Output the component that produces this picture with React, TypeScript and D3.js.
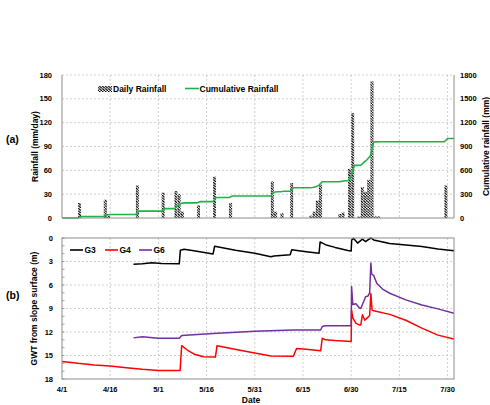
import React from "react";
import * as d3 from "d3";

// daily rainfall (mm/day)
const rainDates = ["4/6", "4/14", "4/15", "4/24", "5/2", "5/6", "5/7", "5/8", "5/13", "5/18", "5/23", "6/5", "6/6", "6/8", "6/11", "6/17", "6/18", "6/19", "6/20", "6/26", "6/27", "6/29", "6/30", "7/2", "7/3", "7/4", "7/5", "7/6", "7/7", "7/8", "7/29"];
const rainValues = [19, 23, 3, 41, 32, 34, 30, 8, 16, 52, 19, 46, 8, 6, 44, 3, 8, 22, 42, 5, 7, 62, 132, 2, 39, 33, 48, 172, 2, 2, 41];

// groundwater table depth (m), panel (b)
const g3Times = ["4/23 06", "4/26 00", "4/29 00", "5/2 00", "5/7 12", "5/7 20", "5/9 00", "5/13 00", "5/18 00", "5/18 12", "5/25 00", "5/31 00", "6/5 00", "6/6 00", "6/11 00", "6/11 12", "6/16 00", "6/20 00", "6/20 08", "6/22 00", "6/25 00", "6/29 00", "6/30 00", "6/30 04", "6/30 18", "7/2 00", "7/3 12", "7/4 12", "7/5 00", "7/6 03", "7/7 00", "7/12 00", "7/17 00", "7/22 00", "7/27 00", "8/1 00"];
const g3Depths = [3.35, 3.3, 3.15, 3.25, 3.3, 1.55, 1.45, 1.7, 2.05, 1.05, 1.55, 1.95, 2.4, 2.3, 2.15, 1.5, 1.75, 1.95, 0.5, 0.85, 1.2, 1.6, 1.65, 0.26, 0.05, 0.65, 0.15, 0.45, 0.3, 0.0, 0.25, 0.7, 0.9, 1.1, 1.4, 1.62];

const g4Times = ["4/1 00", "4/6 00", "4/11 00", "4/16 00", "4/21 00", "4/26 00", "5/1 00", "5/7 18", "5/8 06", "5/10 00", "5/12 00", "5/15 00", "5/18 18", "5/19 06", "5/26 00", "6/5 00", "6/12 00", "6/13 00", "6/16 00", "6/20 12", "6/21 00", "6/22 00", "6/25 00", "6/30 00", "6/30 03", "6/30 12", "7/1 12", "7/2 12", "7/3 00", "7/3 12", "7/4 06", "7/5 00", "7/5 18", "7/6 03", "7/6 12", "7/7 00", "7/12 00", "7/17 00", "7/22 00", "7/27 00", "8/1 00"];
const g4Depths = [15.75, 16.0, 16.2, 16.35, 16.55, 16.75, 16.9, 16.9, 13.75, 14.3, 14.8, 15.15, 15.2, 13.75, 14.3, 15.05, 15.1, 14.1, 14.2, 14.4, 12.8, 13.0, 13.1, 13.2, 9.2, 10.2, 10.9, 11.1, 11.1, 9.8, 10.5, 10.2, 9.9, 7.1, 9.2, 9.3, 9.75, 10.5, 11.5, 12.4, 12.9];

const g6Times = ["4/23 06", "4/26 00", "5/1 00", "5/7 12", "5/8 06", "5/18 00", "5/31 00", "6/12 00", "6/20 12", "6/21 00", "6/22 00", "6/30 00", "6/30 03", "6/30 12", "7/1 12", "7/2 12", "7/3 00", "7/3 12", "7/4 12", "7/5 06", "7/5 18", "7/6 03", "7/6 09", "7/7 00", "7/8 00", "7/10 00", "7/12 00", "7/17 00", "7/22 00", "7/27 00", "8/1 00"];
const g6Depths = [12.75, 12.6, 12.8, 12.8, 12.45, 12.2, 11.9, 11.75, 11.75, 11.3, 11.2, 11.2, 6.2, 8.5, 8.4, 8.9, 9.0, 8.5, 7.5, 7.4, 7.0, 3.2, 4.6, 4.8, 5.8, 6.6, 7.05, 7.9, 8.55, 9.05, 9.6];

const dateTicks = ["4/1", "4/16", "5/1", "5/16", "5/31", "6/15", "6/30", "7/15", "7/30"];
const rainTicks = [0, 30, 60, 90, 120, 150, 180];
const cumTicks = [0, 300, 600, 900, 1200, 1500, 1800];
const gwtTicks = [0, 3, 6, 9, 12, 15, 18];

const parseDay = d3.timeParse("%m/%d");
const parseHour = d3.timeParse("%m/%d %H");

const FONT = "'Liberation Sans', Arial, sans-serif";
const GRID = "#c4c4c4";
const AXIS = "#8c8c8c";

export default function App() {
  const x = d3.scaleTime().domain([parseDay("4/1")!, parseDay("8/1")!]).range([62, 454]);
  const yRain = d3.scaleLinear().domain([0, 180]).range([218, 75]);
  const yCum = d3.scaleLinear().domain([0, 1800]).range([218, 75]);
  const yGwt = d3.scaleLinear().domain([0, 18]).range([238, 379]);

  const rain = rainDates.map((d, i) => ({ date: parseDay(d)!, v: rainValues[i] }));
  const rainByDay = new Map(rain.map((r) => [+r.date, r.v]));
  const days = d3.timeDay.range(parseDay("4/1")!, parseDay("8/1")!);
  const cum = d3.cumsum(days, (d) => rainByDay.get(+d) ?? 0);
  const cumPts: [Date, number][] = [[days[0], 0], ...days.map((d, i) => [d3.timeDay.offset(d, 1), cum[i]] as [Date, number])];

  const cumLine = d3.line<[Date, number]>().x((d) => x(d[0])).y((d) => yCum(d[1]));
  const gLine = d3.line<{ t: Date; v: number }>().x((d) => x(d.t)).y((d) => yGwt(d.v));
  const series = [
    { name: "G3", color: "#000000", times: g3Times, vals: g3Depths },
    { name: "G4", color: "#ff0000", times: g4Times, vals: g4Depths },
    { name: "G6", color: "#7030a0", times: g6Times, vals: g6Depths },
  ];

  const tickDates = dateTicks.map((d) => parseDay(d)!);
  const [x0, x1] = x.range();
  const minor = d3.range(0, 19);

  return (
    <svg width={490} height={405} style={{ position: "absolute", left: 0, top: 0, background: "#fff" }} fontFamily={FONT} fontWeight="bold">
      <defs>
        <pattern id="hatch" patternUnits="userSpaceOnUse" width={3} height={2.6}>
          <rect width={3} height={2.6} fill="#fff" />
          <path d="M-0.5,-0.4 L3.5,3" stroke="#000" strokeWidth={1.15} />
        </pattern>
        <clipPath id="clipB">
          <rect x={x0} y={237} width={x1 - x0} height={143} />
        </clipPath>
      </defs>

      {/* panel (a) */}
      {rainTicks.slice(1).map((t) => (
        <line key={t} x1={x0} x2={x1} y1={yRain(t)} y2={yRain(t)} stroke={GRID} strokeDasharray="2,2" strokeWidth={0.8} />
      ))}
      {tickDates.slice(1).map((d, i) => (
        <line key={i} x1={x(d)} x2={x(d)} y1={75} y2={218} stroke={GRID} strokeDasharray="2,2" strokeWidth={0.8} />
      ))}
      {rain.map((r, i) => (
        <rect key={i} x={x(r.date)} width={x(d3.timeDay.offset(r.date, 1)) - x(r.date) - 0.2} y={yRain(r.v)} height={yRain(0) - yRain(r.v)} fill="url(#hatch)" />
      ))}
      <path d={cumLine(cumPts)!} fill="none" stroke="#22b04b" strokeWidth={1.6} />
      <line x1={x0} x2={x0} y1={75} y2={218} stroke={AXIS} />
      <line x1={x1} x2={x1} y1={75} y2={218} stroke={AXIS} />
      <line x1={x0} x2={x1} y1={218} y2={218} stroke={AXIS} strokeWidth={1.2} />
      {rainTicks.map((t) => (
        <text key={t} x={52} y={yRain(t)} dy="0.35em" textAnchor="end" fontSize={7.5}>{t}</text>
      ))}
      {cumTicks.map((t) => (
        <text key={t} x={460} y={yCum(t)} dy="0.35em" fontSize={7.5}>{t}</text>
      ))}
      <text transform="translate(38,146.5) rotate(-90)" textAnchor="middle" fontSize={8.5}>Rainfall (mm/day)</text>
      <text transform="translate(489,146.5) rotate(-90)" textAnchor="middle" fontSize={8.5}>Cumulative rainfall (mm)</text>
      <text x={6} y={143} fontSize={10.5}>(a)</text>
      <rect x={98} y={86} width={14} height={6} fill="url(#hatch)" />
      <text x={113} y={91.5} fontSize={8.5}>Daily Rainfall</text>
      <line x1={185} x2={199} y1={88.5} y2={88.5} stroke="#22b04b" strokeWidth={1.6} />
      <text x={199.5} y={91.5} fontSize={8.5}>Cumulative Rainfall</text>

      {/* panel (b) */}
      {gwtTicks.slice(1, -1).map((t) => (
        <line key={t} x1={x0} x2={x1} y1={yGwt(t)} y2={yGwt(t)} stroke={GRID} strokeDasharray="2,2" strokeWidth={0.8} />
      ))}
      {tickDates.slice(1).map((d, i) => (
        <line key={i} x1={x(d)} x2={x(d)} y1={238} y2={379} stroke={GRID} strokeDasharray="2,2" strokeWidth={0.8} />
      ))}
      <g clipPath="url(#clipB)">
        {series.map((s) => (
          <path key={s.name} d={gLine(s.times.map((t, i) => ({ t: parseHour(t)!, v: s.vals[i] })))!} fill="none" stroke={s.color} strokeWidth={1.5} strokeLinejoin="round" />
        ))}
      </g>
      <rect x={x0} y={238} width={x1 - x0} height={141} fill="none" stroke={AXIS} strokeWidth={1} />
      {minor.map((m) => (
        <line key={m} x1={x0} x2={x0 + 2.5} y1={yGwt(m)} y2={yGwt(m)} stroke={AXIS} strokeWidth={0.8} />
      ))}
      {gwtTicks.map((t) => (
        <text key={t} x={53} y={yGwt(t)} dy="0.35em" textAnchor="end" fontSize={7.5}>{t}</text>
      ))}
      {tickDates.map((d, i) => (
        <text key={i} x={x(d)} y={391.5} textAnchor="middle" fontSize={7.5}>{dateTicks[i]}</text>
      ))}
      <text x={251} y={403} textAnchor="middle" fontSize={8.5}>Date</text>
      <text transform="translate(37,308.5) rotate(-90)" textAnchor="middle" fontSize={8.5}>GWT from slope surface (m)</text>
      <text x={6} y={299} fontSize={10.5}>(b)</text>
      {series.map((s, i) => {
        const lx = [70, 105, 139][i];
        return (
          <g key={s.name}>
            <line x1={lx} x2={lx + 13} y1={250} y2={250} stroke={s.color} strokeWidth={1.6} />
            <text x={lx + 14.5} y={253} fontSize={8.5}>{s.name}</text>
          </g>
        );
      })}
    </svg>
  );
}
